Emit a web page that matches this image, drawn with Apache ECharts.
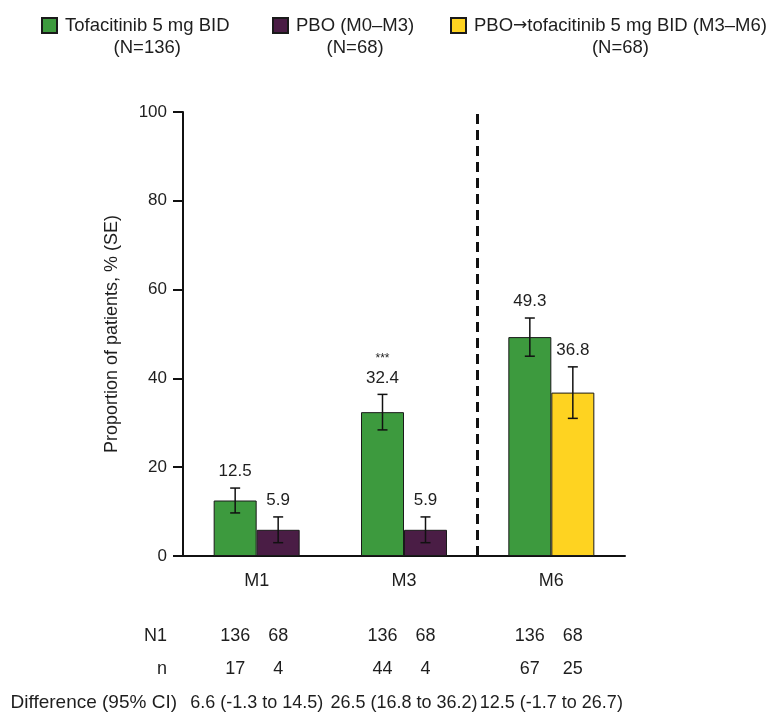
<!DOCTYPE html>
<html><head><meta charset="utf-8">
<script src="https://cdn.jsdelivr.net/npm/echarts@6/dist/echarts.min.js"></script>
<style>html,body{margin:0;padding:0;background:#fff}#c{width:768px;height:713px}</style>
</head><body><div id="c"></div>
<script>
// ---- data ----
const categories = ['M1', 'M3', 'M6'];
const seriesNames = ['Tofacitinib 5 mg BID', 'PBO (M0–M3)', 'PBO→tofacitinib 5 mg BID (M3–M6)'];
const seriesN = ['(N=136)', '(N=68)', '(N=68)'];
const tofaValues = [12.5, 32.4, 49.3];
const tofaSE = [2.8, 4.0, 4.3];
const pboValues = [5.9, 5.9, '-'];
const pboSE = [2.9, 2.9, null];
const switchValues = ['-', '-', 36.8];
const switchSE = [null, null, 5.8];
const significance = ['', '***', ''];
const yMax = 100;
const yInterval = 20;
const rowTitles = ['N1', 'n', 'Difference (95% CI)'];
const n1Tofa = [136, 136, 136];
const n1Pbo = [68, 68, 68];
const nTofa = [17, 44, 67];
const nPbo = [4, 4, 25];
const diffText = ['6.6 (-1.3 to 14.5)', '26.5 (16.8 to 36.2)', '12.5 (-1.7 to 26.7)'];
const separatorAt = 2; // boundary before M6 (in category units)

// ---- style ----
const FONT = "'Liberation Sans', Arial, Helvetica, sans-serif";
const TXT = '#1e1e1e';
const colors = ['#3d9a3e', '#4a1d45', '#fed321'];
const BAR_W = 43;
const LEG_FS = 18.5;

// error-bar data built from arrays
const errData = [];
const errLabels = [];
const errSig = [];
categories.forEach((c, i) => {
  errData.push([i, tofaValues[i], tofaSE[i], 0]); errLabels.push(String(tofaValues[i])); errSig.push(significance[i]);
  if (typeof pboValues[i] === 'number') { errData.push([i, pboValues[i], pboSE[i], 1]); errLabels.push(String(pboValues[i])); errSig.push(''); }
  if (typeof switchValues[i] === 'number') { errData.push([i, switchValues[i], switchSE[i], 1]); errLabels.push(String(switchValues[i])); errSig.push(''); }
});

const chart = echarts.init(document.getElementById('c'));

function richName(name) {
  // render arrow with a font that has a full-size glyph
  return name.split('→').map(p => '{t|' + p + '}').join('{ar|→}');
}

function legendFor(idx, left) {
  const tok = { fontFamily: FONT, fontSize: LEG_FS, color: TXT, lineHeight: 22, align: 'center' };
  return {
    data: [seriesNames[idx]], left: left, top: -7.5, padding: 0,
    itemWidth: 15, itemHeight: 15, icon: 'rect',
    selectedMode: false,
    formatter: () => richName(seriesNames[idx]) + '\n{s|' + seriesN[idx] + '}',
    textStyle: {
      fontFamily: FONT, fontSize: LEG_FS, color: TXT, lineHeight: 22,
      padding: [22, 0, 0, 3],
      rich: {
        t: tok,
        s: tok,
        ar: Object.assign({}, tok, { fontFamily: "'DejaVu Sans', sans-serif", fontSize: 17 })
      }
    }
  };
}

function rowAxis(offset, title, gap, titleSize, fmt) {
  return {
    type: 'category', data: categories, position: 'bottom', offset: offset, gridIndex: 0,
    axisLine: { show: false }, axisTick: { show: false }, splitLine: { show: false },
    name: title, nameLocation: 'start', nameGap: gap,
    nameTextStyle: { fontFamily: FONT, fontSize: titleSize, color: TXT, align: 'right', verticalAlign: 'middle' },
    axisLabel: {
      interval: 0, margin: 0, verticalAlign: 'middle', hideOverlap: false,
      fontFamily: FONT, fontSize: 18, color: TXT,
      formatter: fmt,
      rich: {
        a: { width: BAR_W, align: 'center', fontFamily: FONT, fontSize: 18, color: TXT },
        b: { width: BAR_W, align: 'center', fontFamily: FONT, fontSize: 18, color: TXT }
      }
    }
  };
}

const option = {
  backgroundColor: '#fff',
  animation: false,
  textStyle: { fontFamily: FONT },
  legend: [legendFor(0, 41), legendFor(1, 272), legendFor(2, 450)],
  grid: { left: 183, right: 143, top: 112, bottom: 157 },
  xAxis: [
    {
      type: 'category', data: categories,
      axisLine: { lineStyle: { color: '#111', width: 2 } },
      axisTick: { show: false },
      axisLabel: { margin: 16, fontFamily: FONT, fontSize: 18, color: TXT, interval: 0 }
    },
    rowAxis(80, rowTitles[0], 16, 18, (v, i) => '{a|' + n1Tofa[i] + '}{b|' + n1Pbo[i] + '}'),
    rowAxis(113, rowTitles[1], 16, 18, (v, i) => '{a|' + nTofa[i] + '}{b|' + nPbo[i] + '}'),
    rowAxis(147, rowTitles[2], 6, 19, (v, i) => diffText[i]),
    { type: 'value', min: 0, max: categories.length, show: false, gridIndex: 0 }
  ],
  yAxis: {
    type: 'value', min: 0, max: yMax, interval: yInterval,
    name: 'Proportion of patients, % (SE)', nameLocation: 'middle', nameGap: 62,
    nameTextStyle: { fontFamily: FONT, fontSize: 18, color: TXT },
    axisLine: { show: true, lineStyle: { color: '#111', width: 2 } },
    axisTick: { show: true, length: 10, lineStyle: { color: '#111', width: 2 } },
    axisLabel: { margin: 16, fontFamily: FONT, fontSize: 17, color: TXT },
    splitLine: { show: false }
  },
  series: [
    { name: seriesNames[0], type: 'bar', data: tofaValues, barWidth: BAR_W, barGap: '0%',
      itemStyle: { color: colors[0], borderColor: '#1a1a1a', borderWidth: 1 } },
    { name: seriesNames[1], type: 'bar', stack: 'pbo', data: pboValues, barWidth: BAR_W, barGap: '0%',
      itemStyle: { color: colors[1], borderColor: '#1a1a1a', borderWidth: 1 } },
    { name: seriesNames[2], type: 'bar', stack: 'pbo', data: switchValues, barWidth: BAR_W, barGap: '0%',
      itemStyle: { color: colors[2], borderColor: '#1a1a1a', borderWidth: 1 } },
    {
      type: 'custom', name: 'err', z: 10, silent: true,
      data: errData,
      renderItem: function (params, api) {
        const cat = api.value(0), v = api.value(1), se = api.value(2), slot = api.value(3);
        const c = api.coord([cat, v]);
        const x = c[0] + (slot === 0 ? -BAR_W / 2 : BAR_W / 2);
        const top = api.coord([cat, v + se])[1];
        const bot = api.coord([cat, v - se])[1];
        const cap = 5;
        const ls = { stroke: '#111', lineWidth: 1.5 };
        const children = [
          { type: 'line', shape: { x1: x, y1: top, x2: x, y2: bot }, style: ls },
          { type: 'line', shape: { x1: x - cap, y1: top, x2: x + cap, y2: top }, style: ls },
          { type: 'line', shape: { x1: x - cap, y1: bot, x2: x + cap, y2: bot }, style: ls },
          { type: 'text', style: { text: errLabels[params.dataIndex], x: x, y: top - 8,
              align: 'center', verticalAlign: 'bottom', fontFamily: FONT, fontSize: 17, fill: TXT } }
        ];
        const sig = errSig[params.dataIndex];
        if (sig) {
          children.push({ type: 'text', style: { text: sig, x: x, y: top - 36,
            align: 'center', verticalAlign: 'middle', fontFamily: FONT, fontSize: 12, fill: TXT } });
        }
        return { type: 'group', children: children };
      }
    },
    {
      type: 'line', name: 'sep', xAxisIndex: 4, data: [], silent: true,
      markLine: {
        silent: true, symbol: 'none', label: { show: false },
        lineStyle: { color: '#111', width: 3, type: [10, 6] },
        data: [{ xAxis: separatorAt }]
      }
    }
  ]
};
chart.setOption(option);
</script>
</body></html>
